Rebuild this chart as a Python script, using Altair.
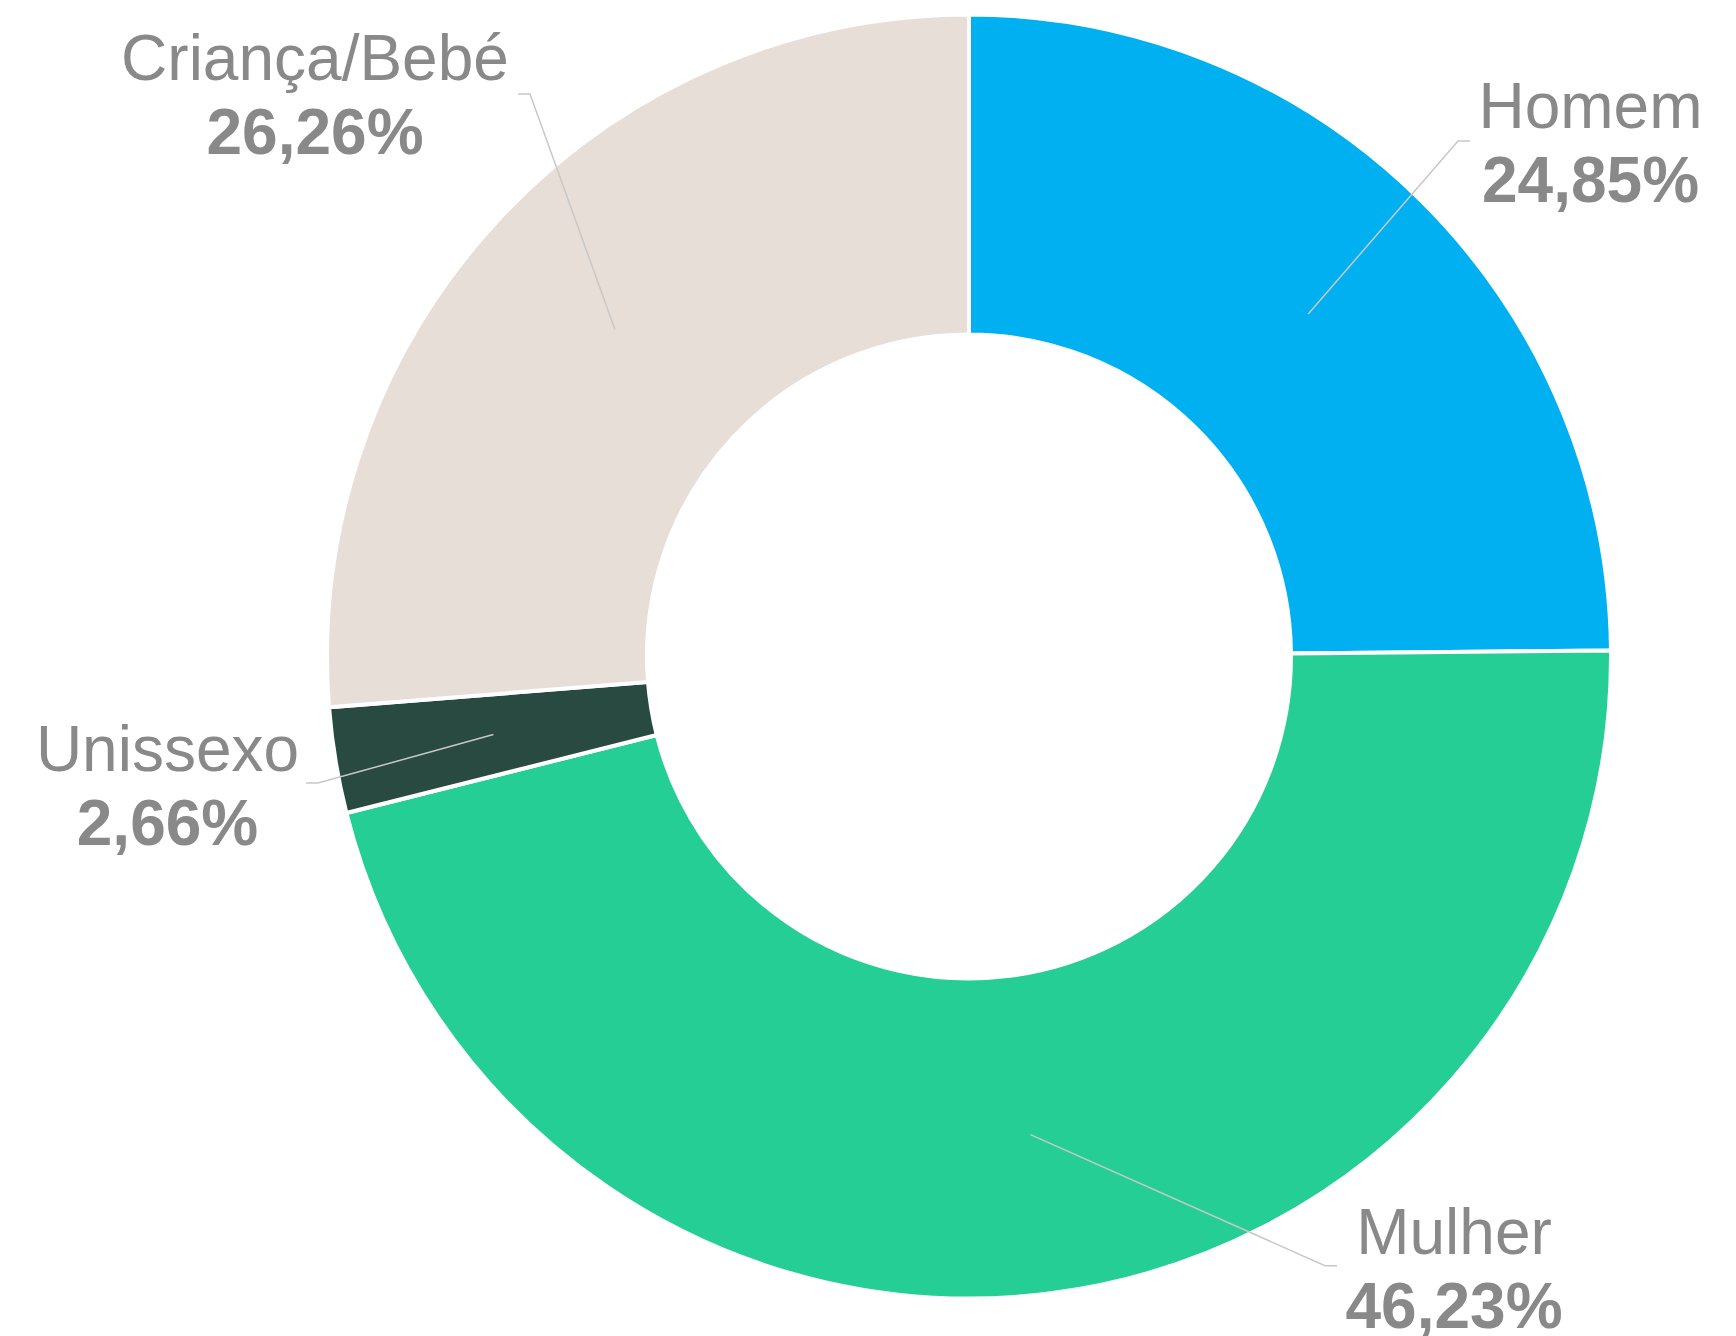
import altair as alt
import pandas as pd
import numpy as np

# ---- data ----
categories = ["Homem", "Mulher", "Unissexo", "Criança/Bebé"]
shares = [24.85, 46.23, 2.66, 26.26]
colors = ["#00B0F0", "#25CE95", "#284A40", "#E8DED8"]

# ---- label layout (pixel offsets from donut centre, y pointing down) ----
label_cx = [621.5, 485, -801.5, -654]
label_base = [-528.5, 597, 114.2, -576.5]
elbow_x = [489, 356, -651, -439]
elbow_y = [-515.5, 609.2, 126.5, -562.5]
tick_x = [501, 368, -663, -451]

W, H = 1700, 1328
CX, CY = 961, 648.5
R_OUT, R_IN = 642, 322
R_LEAD = 482
LINE_GAP = 74
FONT = "Liberation Sans"
FSIZE = 64
TXT = "#898989"

df = pd.DataFrame({"cat": categories, "share": shares, "idx": list(range(len(categories)))})
pct = [f"{v:.2f}".replace(".", ",") + "%" for v in shares]

total = sum(shares)
cum = np.cumsum([0] + shares)
mid = (cum[:-1] + cum[1:]) / 2 / total * 2 * np.pi

rows = []
for i, c in enumerate(categories):
    rows.append(dict(cat=c, o=0, x=R_LEAD * np.sin(mid[i]), y=-R_LEAD * np.cos(mid[i])))
    rows.append(dict(cat=c, o=1, x=elbow_x[i], y=elbow_y[i]))
    rows.append(dict(cat=c, o=2, x=tick_x[i], y=elbow_y[i]))
lines = pd.DataFrame(rows)

labels = pd.DataFrame({"cat": categories, "pct": pct, "x": label_cx, "y": label_base})
labels["y2"] = labels["y"] + LINE_GAP

xs = alt.Scale(domain=[-CX, W - CX], nice=False, zero=False)
ys = alt.Scale(domain=[-CY, H - CY], nice=False, zero=False, reverse=True)

arc = alt.Chart(df).mark_arc(
    outerRadius=R_OUT, innerRadius=R_IN, stroke="white", strokeWidth=4
).encode(
    theta=alt.Theta("share:Q", stack=True),
    order=alt.Order("idx:Q"),
    color=alt.Color("cat:N", scale=alt.Scale(domain=categories, range=colors), legend=None),
    x=alt.XDatum(0, type="quantitative", scale=xs, axis=None),
    y=alt.YDatum(0, type="quantitative", scale=ys, axis=None),
)

lead = alt.Chart(lines).mark_line(color="#C8C8C8", strokeWidth=1.5).encode(
    x=alt.X("x:Q", scale=xs, axis=None),
    y=alt.Y("y:Q", scale=ys, axis=None),
    detail="cat:N",
    order="o:Q",
)

name = alt.Chart(labels).mark_text(
    font=FONT, fontSize=FSIZE, color=TXT, align="center", baseline="alphabetic"
).encode(
    x=alt.X("x:Q", scale=xs, axis=None),
    y=alt.Y("y:Q", scale=ys, axis=None),
    text="cat:N",
)

val = alt.Chart(labels).mark_text(
    font=FONT, fontSize=FSIZE, fontWeight="bold", color=TXT, align="center", baseline="alphabetic"
).encode(
    x=alt.X("x:Q", scale=xs, axis=None),
    y=alt.Y("y2:Q", scale=ys, axis=None),
    text="pct:N",
)

chart = alt.layer(arc, lead, name, val).properties(
    width=W, height=H, padding=0, autosize="none"
).configure_view(stroke=None)

chart.save("out.html", embed_options={"renderer": "svg", "actions": False})
